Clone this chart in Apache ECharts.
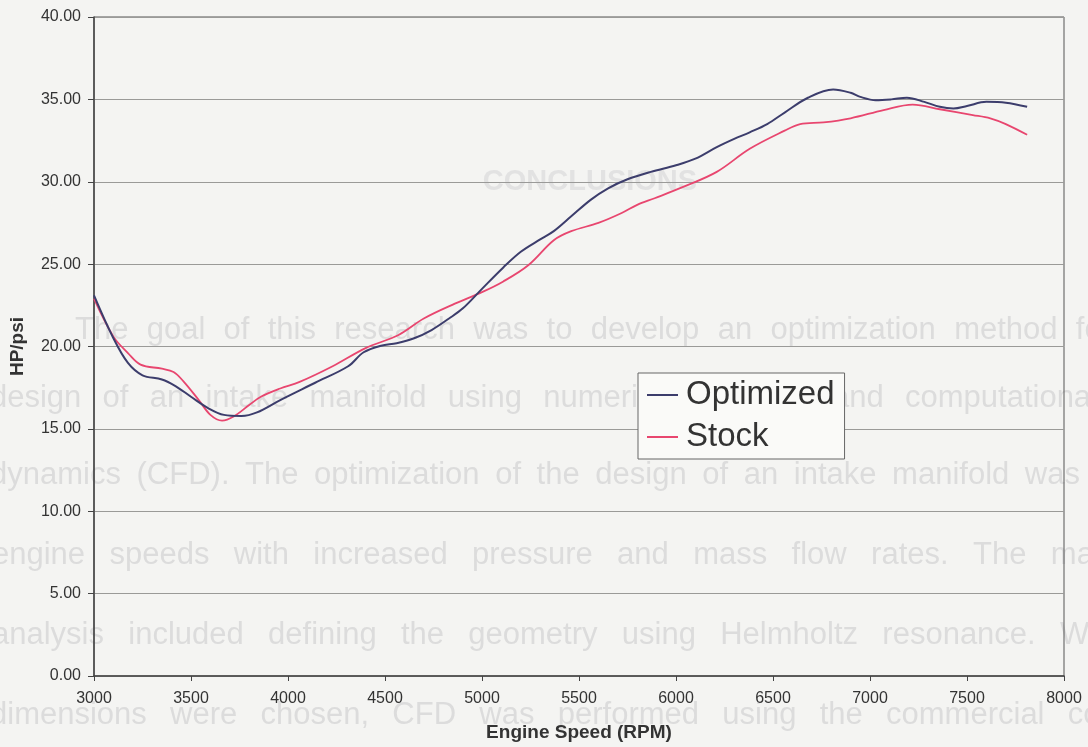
<!DOCTYPE html>
<html>
<head>
<meta charset="utf-8">
<script src="https://cdn.jsdelivr.net/npm/echarts@6/dist/echarts.min.js"></script>
<style>
  html, body { margin: 0; padding: 0; background: #f4f4f2; }
  #chart { width: 1088px; height: 747px; }
</style>
</head>
<body>
<div id="chart"></div>
<script>
// Engine speed (RPM) and HP/psi for the optimized manifold
const optimizedRpm = [3000, 3100, 3175, 3250, 3350, 3420, 3500, 3590, 3670, 3760, 3840, 3960,
  4140, 4310, 4390, 4480, 4560, 4650, 4740, 4830, 4900, 5000, 5110, 5200, 5300, 5370, 5460,
  5560, 5650, 5750, 5870, 6000, 6100, 6210, 6300, 6380, 6470, 6560, 6680, 6810, 6900, 6950,
  7030, 7110, 7190, 7280, 7360, 7430, 7500, 7600, 7700, 7810];
const optimizedVal = [23.1, 20.5, 19.0, 18.25, 18.0, 17.6, 16.95, 16.25, 15.85, 15.78, 16.0, 16.75,
  17.8, 18.8, 19.65, 20.05, 20.2, 20.5, 21.0, 21.7, 22.3, 23.5, 24.8, 25.75, 26.5, 27.0, 27.9,
  28.9, 29.6, 30.15, 30.6, 31.0, 31.4, 32.1, 32.6, 33.0, 33.5, 34.2, 35.1, 35.6, 35.4, 35.15,
  34.95, 35.0, 35.1, 34.85, 34.55, 34.45, 34.6, 34.85, 34.8, 34.55];

// Engine speed (RPM) and HP/psi for the stock manifold
const stockRpm = [3000, 3100, 3175, 3240, 3350, 3410, 3460, 3540, 3600, 3660, 3720, 3800, 3860,
  3960, 4060, 4230, 4400, 4570, 4700, 4860, 5000, 5110, 5240, 5370, 5460, 5600, 5720, 5800,
  5890, 6040, 6210, 6380, 6560, 6640, 6760, 6900, 7070, 7220, 7360, 7530, 7620, 7700, 7810];
const stockVal = [22.9, 20.6, 19.6, 18.9, 18.65, 18.45, 17.9, 16.75, 15.85, 15.5, 15.75, 16.45, 16.95,
  17.45, 17.85, 18.8, 19.9, 20.7, 21.7, 22.6, 23.3, 23.95, 24.95, 26.45, 27.0, 27.5, 28.1, 28.6,
  29.0, 29.7, 30.6, 32.0, 33.1, 33.5, 33.6, 33.85, 34.35, 34.68, 34.4, 34.05, 33.85, 33.5, 32.85];

const seriesNames = ['Optimized', 'Stock'];
const xTitle = 'Engine Speed (RPM)';
const yTitle = 'HP/psi';

// Faint text showing through the paper from the facing page
const heading = 'CONCLUSIONS';
const pageLines = [
  'The goal of this research was to develop an optimization method for',
  'design of an intake manifold using numerical analysis and computational',
  'dynamics (CFD). The optimization of the design of an intake manifold was',
  'engine speeds with increased pressure and mass flow rates. The main',
  'analysis included defining the geometry using Helmholtz resonance. With',
  'dimensions were chosen, CFD was performed using the commercial code'
];

function pairs(xs, ys) { return xs.map((x, i) => [x, ys[i]]); }

// Lay out a justified line word by word between two x positions
const measureCtx = document.createElement('canvas').getContext('2d');
function justifiedWords(text, x0, x1, y, size) {
  measureCtx.font = size + 'px "Liberation Sans"';
  const words = text.split(' ');
  const widths = words.map(w => measureCtx.measureText(w).width);
  const total = widths.reduce((a, b) => a + b, 0);
  const gap = (x1 - x0 - total) / (words.length - 1);
  const out = [];
  let x = x0;
  words.forEach((w, i) => {
    out.push({
      type: 'text', z: -10, silent: true,
      style: { x: x, y: y, text: w, fill: '#dcdcdc', font: size + 'px "Liberation Sans"', verticalAlign: 'middle' }
    });
    x += widths[i] + gap;
  });
  return out;
}

const lineLayout = [
  [75, 1112, 330], [-10, 1098, 398], [-10, 1080, 475],
  [-8, 1118, 555], [-8, 1122, 635], [-10, 1135, 715]
];
let pageText = [];
pageLines.forEach((t, i) => {
  const [a, b, y] = lineLayout[i];
  pageText = pageText.concat(justifiedWords(t, a, b, y, 31));
});
pageText.push({
  type: 'text', z: -10, silent: true,
  style: { x: 590, y: 182, text: heading, fill: '#e2e2e2', font: 'bold 29px "Liberation Sans"', align: 'center', verticalAlign: 'middle' }
});

const labelFont = { fontFamily: 'Liberation Sans', fontSize: 16, color: '#333' };
const titleFont = { fontFamily: 'Liberation Sans', fontSize: 19, fontWeight: 'bold', color: '#333' };

const chart = echarts.init(document.getElementById('chart'), null, { renderer: 'canvas' });
chart.setOption({
  backgroundColor: '#f4f4f2',
  animation: false,
  graphic: pageText,
  grid: {
    left: 93, right: 24, top: 17, bottom: 71,
    show: true, borderColor: '#555', borderWidth: 1, backgroundColor: 'transparent'
  },
  legend: {
    data: seriesNames,
    orient: 'vertical',
    left: 638, top: 373,
    padding: [3, 10, 3, 9],
    itemGap: 4,
    itemWidth: 31, itemHeight: 2,
    icon: 'rect',
    backgroundColor: '#fafaf8',
    borderColor: '#666', borderWidth: 1,
    textStyle: { fontFamily: 'Liberation Sans', fontSize: 33, color: '#333', lineHeight: 38, padding: [0, 0, 0, 3] }
  },
  xAxis: {
    type: 'value', min: 3000, max: 8000, interval: 500,
    name: xTitle, nameLocation: 'middle', nameGap: 47,
    nameTextStyle: titleFont,
    axisLine: { show: true, lineStyle: { color: '#444', width: 1.5 } },
    axisTick: { show: true, length: 5, lineStyle: { color: '#444' } },
    axisLabel: Object.assign({ margin: 15, formatter: v => String(v) }, labelFont),
    splitLine: { show: false }
  },
  yAxis: {
    type: 'value', min: 0, max: 40, interval: 5,
    name: yTitle, nameLocation: 'middle', nameGap: 67, nameRotate: 90,
    nameTextStyle: titleFont,
    axisLine: { show: true, lineStyle: { color: '#444', width: 1.5 } },
    axisTick: { show: true, length: 6, lineStyle: { color: '#444' } },
    axisLabel: Object.assign({ margin: 13, formatter: v => v.toFixed(2) }, labelFont),
    splitLine: { show: true, lineStyle: { color: '#9a9a98', width: 1 } }
  },
  series: [
    {
      name: seriesNames[0], type: 'line', data: pairs(optimizedRpm, optimizedVal),
      smooth: 0.35, symbol: 'none', z: 3,
      lineStyle: { color: '#3c3d6c', width: 2 }, itemStyle: { color: '#3c3d6c' }
    },
    {
      name: seriesNames[1], type: 'line', data: pairs(stockRpm, stockVal),
      smooth: 0.35, symbol: 'none', z: 2,
      lineStyle: { color: '#e8466f', width: 1.8 }, itemStyle: { color: '#e8466f' }
    }
  ]
});
</script>
</body>
</html>
